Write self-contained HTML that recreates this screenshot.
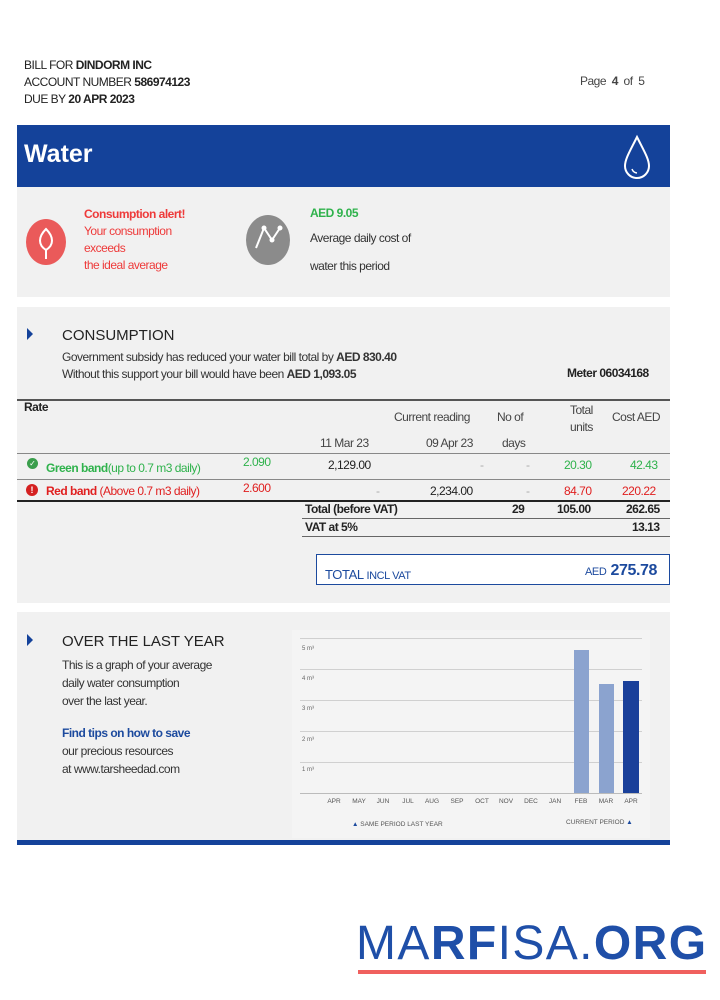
<!DOCTYPE html>
<html><head><meta charset="utf-8"><style>
*{margin:0;padding:0;box-sizing:border-box}
body{width:720px;height:1000px;background:#fff;font-family:"Liberation Sans",sans-serif;position:relative;overflow:hidden;color:#222}
.a{position:absolute;white-space:nowrap}
.s{font-size:12px;letter-spacing:-0.5px}
b{font-weight:bold}
.gl{position:absolute;left:300px;width:342px;height:1px;background:#d0d0d0}
.yl{position:absolute;left:302px;font-size:6px;color:#666}
.xl{position:absolute;top:798px;font-size:6.5px;color:#555;width:24px;text-align:center}
</style></head><body>
<div class="a s" style="left:24px;top:57px;line-height:17px">BILL FOR <b>DINDORM INC</b><br>ACCOUNT NUMBER <b>586974123</b><br>DUE BY <b>20 APR 2023</b></div>
<div class="a s" style="left:580px;top:74px;color:#444">Page &nbsp;<b>4</b>&nbsp; of &nbsp;5</div>

<div class="a" style="left:17px;top:125px;width:653px;height:62px;background:#14429a"></div>
<div class="a" style="left:24px;top:140px;font-size:25px;font-weight:bold;color:#fff">Water</div>
<svg class="a" style="left:620px;top:133px" width="34" height="48"><path d="M17 4 C 10 18 5 26 5 33 A 12 12 0 0 0 29 33 C 29 26 24 18 17 4Z" fill="none" stroke="#fff" stroke-width="2"/><path d="M12 36 A 6 6 0 0 0 17 40" fill="none" stroke="#fff" stroke-width="1.5"/></svg>

<div class="a" style="left:17px;top:187px;width:653px;height:110px;background:#f1f1f1"></div>
<svg class="a" style="left:24px;top:217px" width="44" height="50"><ellipse cx="22" cy="25" rx="20" ry="23" fill="#ea5a5a"/><path d="M22 12 C14 20 14 28 22 33 C30 28 30 20 22 12Z M22 33 V42" fill="none" stroke="#fff" stroke-width="2"/></svg>
<div class="a s" style="left:84px;top:206px;line-height:17px;color:#ee3a3a"><b>Consumption alert!</b><br>Your consumption<br>exceeds<br>the ideal average</div>
<svg class="a" style="left:244px;top:214px" width="48" height="52"><ellipse cx="24" cy="26" rx="22" ry="25" fill="#8b8b8b"/><polyline points="12,34 20,14 28,26 36,14" fill="none" stroke="#fff" stroke-width="2"/><circle cx="20" cy="14" r="2.5" fill="#fff"/><circle cx="28" cy="26" r="2.5" fill="#fff"/><circle cx="36" cy="14" r="2.5" fill="#fff"/></svg>
<div class="a s" style="left:310px;top:206px;color:#2fb24c;font-weight:bold">AED 9.05</div>
<div class="a s" style="left:310px;top:231px;color:#333">Average daily cost of</div>
<div class="a s" style="left:310px;top:259px;color:#333">water this period</div>

<div class="a" style="left:17px;top:307px;width:653px;height:296px;background:#f1f1f1"></div>
<div class="a" style="left:27px;top:328px;width:0;height:0;border-left:6px solid #14429a;border-top:6px solid transparent;border-bottom:6px solid transparent"></div>
<div class="a" style="left:62px;top:327px;font-size:15px;color:#222">CONSUMPTION</div>
<div class="a s" style="left:62px;top:349px;line-height:17px;color:#333">Government subsidy has reduced your water bill total by <b>AED 830.40</b><br>Without this support your bill would have been <b>AED 1,093.05</b></div>
<div class="a s" style="left:567px;top:366px;font-weight:bold">Meter 06034168</div>

<div class="a" style="left:17px;top:399px;width:653px;height:2px;background:#555"></div>
<div class="a s" style="left:24px;top:400px;font-weight:bold">Rate</div>
<div class="a s" style="left:394px;top:410px;color:#444">Current reading</div>
<div class="a s" style="left:497px;top:410px;color:#444">No of</div>
<div class="a s" style="left:570px;top:402px;color:#444;text-align:center;line-height:17px">Total<br>units</div>
<div class="a s" style="left:612px;top:410px;color:#444">Cost AED</div>
<div class="a s" style="left:320px;top:436px;color:#444">11 Mar 23</div>
<div class="a s" style="left:426px;top:436px;color:#444">09 Apr 23</div>
<div class="a s" style="left:502px;top:436px;color:#444">days</div>
<div class="a" style="left:17px;top:453px;width:653px;height:1px;background:#888"></div>
<div class="a" style="left:27px;top:458px;width:11px;height:11px;border-radius:50%;background:#3a9e4c;color:#fff;font-size:8px;text-align:center;line-height:11px">✓</div>
<div class="a s" style="left:46px;top:461px;color:#2fb24c"><b>Green band</b>(up to 0.7 m3 daily)</div>
<div class="a s" style="left:243px;top:455px;color:#2fb24c">2.090</div>
<div class="a s" style="left:328px;top:458px">2,129.00</div>
<div class="a s" style="left:480px;top:458px;color:#aaa">-</div><div class="a s" style="left:526px;top:458px;color:#aaa">-</div>
<div class="a s" style="left:564px;top:458px;color:#2fb24c">20.30</div>
<div class="a s" style="left:630px;top:458px;color:#2fb24c">42.43</div>
<div class="a" style="left:17px;top:479px;width:653px;height:1px;background:#888"></div>
<div class="a" style="left:26px;top:484px;width:12px;height:12px;border-radius:50%;background:#d42020;color:#fff;font-size:9px;font-weight:bold;text-align:center;line-height:12px">!</div>
<div class="a s" style="left:46px;top:484px;color:#e02020"><b>Red band</b> (Above 0.7 m3 daily)</div>
<div class="a s" style="left:243px;top:481px;color:#e02020">2.600</div>
<div class="a s" style="left:376px;top:484px;color:#aaa">-</div>
<div class="a s" style="left:430px;top:484px">2,234.00</div>
<div class="a s" style="left:526px;top:484px;color:#aaa">-</div>
<div class="a s" style="left:564px;top:484px;color:#e02020">84.70</div>
<div class="a s" style="left:622px;top:484px;color:#e02020">220.22</div>
<div class="a" style="left:17px;top:500px;width:653px;height:2px;background:#222"></div>
<div class="a s" style="left:305px;top:502px;font-weight:bold">Total (before VAT)</div>
<div class="a s" style="left:512px;top:502px;font-weight:bold">29</div>
<div class="a s" style="left:557px;top:502px;font-weight:bold">105.00</div>
<div class="a s" style="left:626px;top:502px;font-weight:bold">262.65</div>
<div class="a" style="left:302px;top:518px;width:368px;height:1px;background:#666"></div>
<div class="a s" style="left:305px;top:520px;font-weight:bold">VAT at 5%</div>
<div class="a s" style="left:632px;top:520px;font-weight:bold">13.13</div>
<div class="a" style="left:302px;top:536px;width:368px;height:1px;background:#666"></div>
<div class="a" style="left:316px;top:554px;width:354px;height:31px;border:1.5px solid #1c4a9e;background:#fff"></div>
<div class="a" style="left:325px;top:567px;font-size:13px;color:#1c4a9e;letter-spacing:-0.4px">TOTAL <span style="font-size:11px">INCL VAT</span></div>
<div class="a" style="left:585px;top:562px;color:#1c4a9e;letter-spacing:-0.4px"><span style="font-size:11px">AED</span> <b style="font-size:16px">275.78</b></div>

<div class="a" style="left:17px;top:612px;width:653px;height:228px;background:#f1f1f1"></div>
<div class="a" style="left:17px;top:840px;width:653px;height:5px;background:#14429a"></div>
<div class="a" style="left:27px;top:634px;width:0;height:0;border-left:6px solid #14429a;border-top:6px solid transparent;border-bottom:6px solid transparent"></div>
<div class="a" style="left:62px;top:633px;font-size:15px;color:#222">OVER THE LAST YEAR</div>
<div class="a s" style="left:62px;top:656px;line-height:18px;color:#333">This is a graph of your average<br>daily water consumption<br>over the last year.</div>
<div class="a s" style="left:62px;top:724px;line-height:18px;color:#333"><b style="color:#1c4a9e">Find tips on how to save</b><br>our precious resources<br>at www.tarsheedad.com</div>

<div class="a" style="left:292px;top:630px;width:358px;height:208px;background:#f4f4f4"></div>
<div class="gl" style="top:638px"></div>
<div class="gl" style="top:669px"></div>
<div class="gl" style="top:700px"></div>
<div class="gl" style="top:731px"></div>
<div class="gl" style="top:762px"></div>
<div class="gl" style="top:793px;background:#bbb"></div>
<div class="yl" style="top:646px">5 m³</div>
<div class="yl" style="top:676px">4 m³</div>
<div class="yl" style="top:706px">3 m³</div>
<div class="yl" style="top:737px">2 m³</div>
<div class="yl" style="top:767px">1 m³</div>
<div class="a" style="left:574px;top:650px;width:15px;height:143px;background:#8ba3cf"></div>
<div class="a" style="left:599px;top:684px;width:15px;height:109px;background:#8ba3cf"></div>
<div class="a" style="left:623px;top:681px;width:16px;height:112px;background:#1a409a"></div>
<div class="xl" style="left:322px">APR</div><div class="xl" style="left:347px">MAY</div><div class="xl" style="left:371px">JUN</div><div class="xl" style="left:396px">JUL</div><div class="xl" style="left:420px">AUG</div><div class="xl" style="left:445px">SEP</div><div class="xl" style="left:470px">OCT</div><div class="xl" style="left:494px">NOV</div><div class="xl" style="left:519px">DEC</div><div class="xl" style="left:543px">JAN</div><div class="xl" style="left:569px">FEB</div><div class="xl" style="left:594px">MAR</div><div class="xl" style="left:619px">APR</div>
<div class="a" style="left:352px;top:821px;font-size:6.5px;color:#555"><span style="color:#1c4a9e">▲</span> SAME PERIOD LAST YEAR</div>
<div class="a" style="left:566px;top:819px;font-size:6.5px;color:#555">CURRENT PERIOD <span style="color:#1c4a9e">▲</span></div>

<div class="a" style="left:356px;top:918px;font-size:48px;color:#1f4fa8;letter-spacing:1.4px;line-height:52px">MA<b>RF</b>ISA.<b>ORG</b></div>
<div class="a" style="left:358px;top:970px;width:348px;height:4px;background:#f0605e"></div>
</body></html>
